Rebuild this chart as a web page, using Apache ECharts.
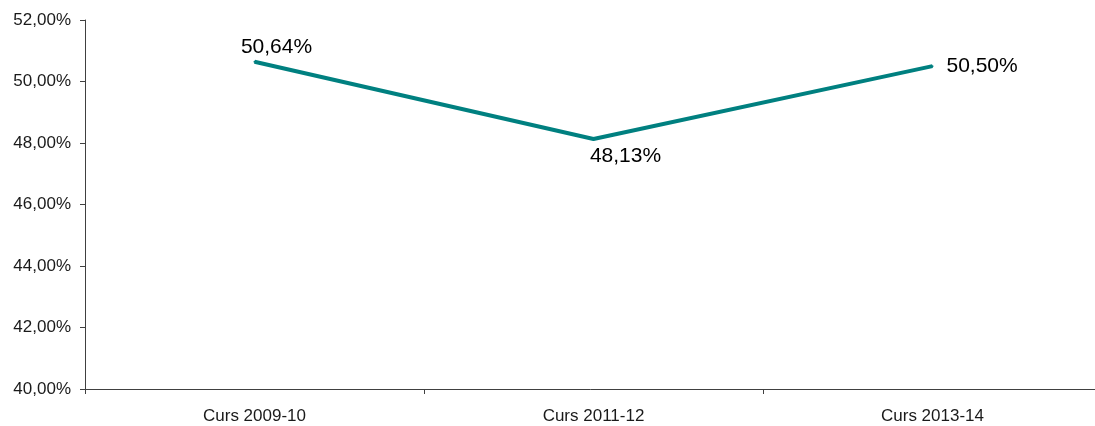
<!DOCTYPE html>
<html>
<head>
<meta charset="utf-8">
<script src="https://cdn.jsdelivr.net/npm/echarts@6/dist/echarts.min.js"></script>
<style>
html,body{margin:0;padding:0;background:#fff;}
#c{width:1095px;height:426px;}
</style>
</head>
<body>
<div id="c"></div>
<script>
const categories = ['Curs 2009-10', 'Curs 2011-12', 'Curs 2013-14'];
const values = [50.64, 48.13, 50.50];
const labelPositions = ['top', 'bottom', 'right'];
const labelOffsets = [[22, 0], [32, 0], [0, 0]];
const labelDistances = [3, 6, 13];

const fmt = v => v.toFixed(2).replace('.', ',') + '%';
const font = 'Liberation Sans, Arial, sans-serif';

const chart = echarts.init(document.getElementById('c'), null, {renderer: 'canvas'});
chart.setOption({
  animation: false,
  backgroundColor: '#ffffff',
  grid: {left: 85, top: 20, right: -7, bottom: 37, containLabel: false, outerBoundsMode: 'none'},
  xAxis: {
    type: 'category',
    data: categories,
    boundaryGap: true,
    axisLine: {show: true, lineStyle: {color: '#404040', width: 1}},
    axisTick: {show: true, length: 5, alignWithLabel: false, lineStyle: {color: '#404040'}},
    axisLabel: {color: '#1a1a1a', fontSize: 17, fontFamily: font, margin: 19},
    splitLine: {show: false}
  },
  yAxis: {
    type: 'value',
    min: 40, max: 52, interval: 2,
    axisLine: {show: true, lineStyle: {color: '#404040', width: 1}},
    axisTick: {show: true, length: 5, lineStyle: {color: '#404040'}},
    axisLabel: {color: '#1a1a1a', fontSize: 17, fontFamily: font, margin: 14, formatter: v => fmt(v)},
    splitLine: {show: false}
  },
  series: [{
    type: 'line',
    data: values.map((v, i) => ({
      value: v,
      label: {position: labelPositions[i], offset: labelOffsets[i], distance: labelDistances[i]}
    })),
    symbol: 'circle',
    symbolSize: 2,
    showSymbol: true,
    itemStyle: {color: '#008080'},
    lineStyle: {color: '#008080', width: 4},
    label: {
      show: true,
      fontSize: 21,
      fontFamily: font,
      color: '#000',
      formatter: p => fmt(p.value)
    }
  }]
});
</script>
</body>
</html>
